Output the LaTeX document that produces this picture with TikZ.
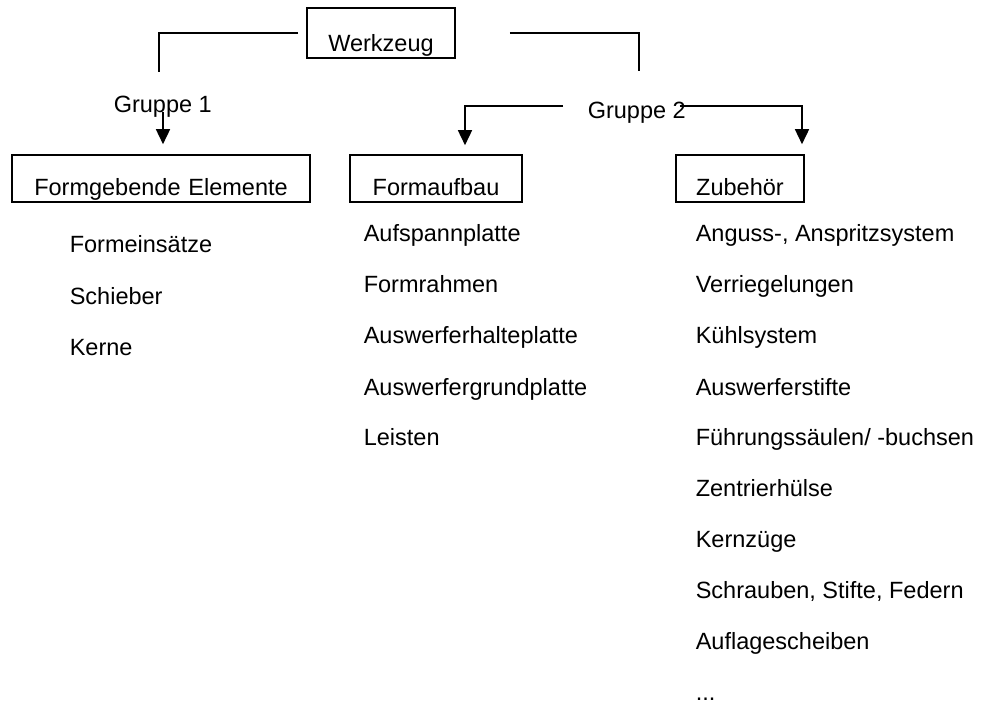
\documentclass[tikz,border=0pt]{standalone}
\usepackage{fontspec}
\setmainfont{Liberation Sans}
\usetikzlibrary{arrows.meta}

\begin{document}
\begin{tikzpicture}[x=1pt,y=-1pt,line width=1.6pt,
	font=\fontsize{23.5}{28}\selectfont,
	boxnode/.style={draw,inner sep=0pt,text height=40pt,text depth=7pt,align=center,anchor=base},
	item/.style={inner sep=0pt,anchor=base west},
	arr/.style={-{Triangle[width=14pt,length=15pt]}}]
	\useasboundingbox (0,0) rectangle (982,709);
	% boxes
	\node[boxnode,text width=148pt,text height=44pt,text depth=6pt] (wz) at (381,52) {Werkzeug};
	\node[boxnode,text width=298pt] (fe) at (161,195) {Formgebende Elemente};
	\node[boxnode,text width=172pt] (fa) at (436,195) {Formaufbau};
	\node[boxnode,text width=128pt] (zb) at (740,195) {Zubehör};
	% groups
	\node[item] (g1) at (113,112) {Gruppe 1};
	\node[item] (g2) at (587,118) {Gruppe 2};
	\coordinate (g1top) at (159,72);
	\coordinate (g2top) at (639,71);
	\draw ([xshift=-8pt]wz.west) -| (g1top);
	\draw ([xshift=54pt]wz.east) -| (g2top);
	\draw[arr] ([xshift=50pt]g1.base west) -- ([xshift=2pt,yshift=10pt]fe.north);
	\draw[arr] ([xshift=-24pt,yshift=12pt]g2.base west) -| ([xshift=29pt,yshift=9pt]fa.north);
	\draw[arr] ([xshift=-7pt,yshift=12pt]g2.base east) -| ([xshift=62pt,yshift=10pt]zb.north);
	% Formgebende Elemente
	\node[item] (fe1) at (69,252) {Formeinsätze};
	\node[item] (fe2) at (69,304) {Schieber};
	\node[item] (fe3) at (69,355) {Kerne};
	% Formaufbau
	\node[item] (fa1) at (363,241) {Aufspannplatte};
	\node[item] (fa2) at (363,292) {Formrahmen};
	\node[item] (fa3) at (363,343) {Auswerferhalteplatte};
	\node[item] (fa4) at (363,395) {Auswerfergrundplatte};
	\node[item] (fa5) at (363,445) {Leisten};
	% Zubehör
	\node[item] (zb1) at (695,241) {Anguss-, Anspritzsystem};
	\node[item] (zb2) at (695,292) {Verriegelungen};
	\node[item] (zb3) at (695,343) {Kühlsystem};
	\node[item] (zb4) at (695,395) {Auswerferstifte};
	\node[item] (zb5) at (695,445) {Führungssäulen/ -buchsen};
	\node[item] (zb6) at (695,496) {Zentrierhülse};
	\node[item] (zb7) at (695,547) {Kernzüge};
	\node[item] (zb8) at (695,598) {Schrauben, Stifte, Federn};
	\node[item] (zb9) at (695,649) {Auflagescheiben};
	\node[item] (zb10) at (695,700) {...};
\end{tikzpicture}
\end{document}
